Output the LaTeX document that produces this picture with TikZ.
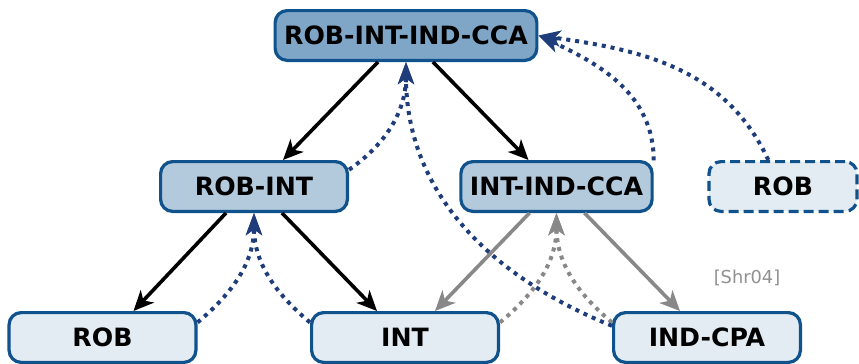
\documentclass[tikz,border=0pt]{standalone}
\usepackage{fontspec}
\setmainfont{DejaVu Sans}
\usetikzlibrary{arrows.meta}
\definecolor{bordc}{RGB}{16,82,140}
\definecolor{topc}{RGB}{128,166,199}
\definecolor{midc}{RGB}{179,202,221}
\definecolor{lowc}{RGB}{228,236,243}
\definecolor{dotc}{RGB}{31,61,122}
\definecolor{grayc}{RGB}{136,136,136}
\definecolor{refc}{RGB}{144,144,144}
\begin{document}
\begin{tikzpicture}[x=0.5pt,y=-0.5pt,
  box/.style={draw=bordc, line width=1.6pt, rounded corners=6pt,
    minimum width=93.4pt, minimum height=24.9pt, inner xsep=4.5pt,
    font=\fontsize{12.6}{14}\selectfont\bfseries, text=black},
  blk/.style={draw=black, line width=1.8pt, -{Stealth[length=10pt,width=9pt,inset=2.8pt]}},
  gry/.style={draw=grayc, line width=1.8pt, -{Stealth[length=10pt,width=9pt,inset=2.8pt]}},
  bdot/.style={draw=dotc, line width=2pt, dash pattern=on 2pt off 2.5pt,
    -{Stealth[length=11pt,width=8pt,inset=2.8pt,fill=dotc]}},
  gdot/.style={draw=grayc, line width=2pt, dash pattern=on 2pt off 2.5pt,
    -{Stealth[length=11pt,width=8pt,inset=2.8pt,fill=grayc]}}]
\useasboundingbox (0,0) rectangle (859,364);
\node[box, fill=topc] (top) at (406,35.5) {ROB-INT-IND-CCA};
\node[box, fill=midc] (robint) at (254,186.5) {ROB-INT};
\node[box, fill=midc] (iic) at (556.5,186.5) {INT-IND-CCA};
\node[box, fill=lowc, dash pattern=on 5pt off 2.5pt, minimum width=74pt] (robx) at (783,186.5) {ROB};
\node[box, fill=lowc] (rob) at (102.5,337.5) {ROB};
\node[box, fill=lowc] (int) at (405,337.5) {INT};
\node[box, fill=lowc] (cpa) at (707,337.5) {IND-CPA};
\node[text=refc, font=\fontsize{8.9}{10}\selectfont] (ref) at (747,278) {[Shr04]};
% solid arrows
\draw[blk] ([xshift=-14pt]top.south) -- ([xshift=14.5pt]robint.north);
\draw[blk] ([xshift=13.5pt]top.south) -- ([xshift=-14pt]iic.north);
\draw[blk] ([xshift=-14pt]robint.south) -- ([xshift=15.5pt]rob.north);
\draw[blk] ([xshift=14pt]robint.south) -- ([xshift=-14pt]int.north);
\draw[gry] ([xshift=-13.5pt]iic.south) -- ([xshift=15pt]int.north);
\draw[gry] ([xshift=14pt]iic.south) -- ([xshift=-13.5pt]cpa.north);
% dotted arrows
\draw[bdot] (rob.9) to[out=40,in=-90] (robint.south);
\draw[bdot] (int.171) to[out=140,in=-90] (robint.south);
\draw[gdot] (int.9) to[out=40,in=-90] (iic.south);
\draw[gdot] (cpa.171) to[out=140,in=-90] (iic.south);
\draw[bdot] (robint.10) to[out=35,in=-90] (top.south);
\draw[bdot] (cpa.173) to[out=158,in=-90] (top.south);
\draw[bdot] (iic.15) to[out=90,in=-25] (top.east);
\draw[bdot] (robx.119) to[out=115,in=-8] (top.east);
\end{tikzpicture}
\end{document}
